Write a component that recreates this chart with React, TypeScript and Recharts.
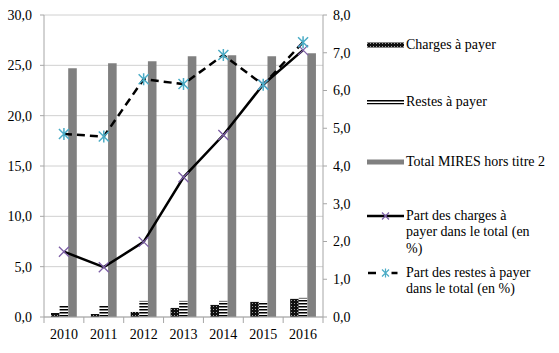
import React from "react";
import {
  ComposedChart,
  Bar,
  Line,
  XAxis,
  YAxis,
  CartesianGrid,
} from "recharts";

const years = ["2010", "2011", "2012", "2013", "2014", "2015", "2016"];
const chargesAPayer = [0.4, 0.3, 0.5, 0.9, 1.2, 1.5, 1.8];
const restesAPayer = [1.1, 1.1, 1.6, 1.6, 1.6, 1.5, 1.9];
const totalMires = [24.7, 25.2, 25.4, 25.9, 26.0, 25.9, 26.2];
const partCharges = [1.73, 1.32, 1.99, 3.7, 4.82, 6.16, 7.07];
const partRestes = [4.85, 4.78, 6.3, 6.17, 6.94, 6.15, 7.28];

const leftTicks = [0, 5, 10, 15, 20, 25, 30];
const rightTicks = [0, 1, 2, 3, 4, 5, 6, 7, 8];

const seriesNames = [
  "Charges à payer",
  "Restes à payer",
  "Total MIRES hors titre 2",
  "Part des charges à payer dans le total (en %)",
  "Part des restes à payer dans le total (en %)",
];
// how the legend wraps the two long names
const legendLines = [
  ["Charges à payer"],
  ["Restes à payer"],
  ["Total MIRES hors titre 2"],
  ["Part des charges à", "payer dans le total (en", "%)"],
  ["Part des restes à payer", "dans le total (en %)"],
];

const data = years.map((y, i) => ({
  year: y,
  charges: chargesAPayer[i],
  restes: restesAPayer[i],
  total: totalMires[i],
  partCharges: partCharges[i],
  partRestes: partRestes[i],
}));

const W = 559;
const H = 353;
const M = { top: 15, right: 200, bottom: 0, left: 0 };
const LEFT_W = 44;
const RIGHT_W = 36;
const band = (W - M.right - M.left - LEFT_W - RIGHT_W) / years.length;

const FONT = "'Liberation Serif', 'Times New Roman', serif";
const AXIS = "#a6a6a6";
const PURPLE = "#7d5fa6";
const CYAN = "#4bacc6";

const fmt = (v: number) => v.toFixed(1).replace(".", ",");

const XTick = (props: any) => {
  const { x, y, payload, index } = props;
  const half = band / 2;
  return (
    <g>
      <line x1={x - half} x2={x - half} y1={y} y2={y + 6} stroke={AXIS} />
      {index === years.length - 1 && (
        <line x1={x + half} x2={x + half} y1={y} y2={y + 6} stroke={AXIS} />
      )}
      <text
        x={x}
        y={y + 12}
        dy="0.71em"
        textAnchor="middle"
        fontFamily={FONT}
        fontSize={14}
        fill="#000"
      >
        {payload.value}
      </text>
    </g>
  );
};

const CrossDot = (props: any) => {
  const { cx, cy } = props;
  if (cx == null || cy == null) return null;
  const s = 5;
  return (
    <path
      d={`M${cx - s},${cy - s}L${cx + s},${cy + s}M${cx - s},${cy + s}L${cx + s},${cy - s}`}
      stroke={PURPLE}
      strokeWidth={1.3}
      fill="none"
    />
  );
};

const StarDot = (props: any) => {
  const { cx, cy } = props;
  if (cx == null || cy == null) return null;
  const s = 5;
  return (
    <path
      d={`M${cx - s},${cy - s}L${cx + s},${cy + s}M${cx - s},${cy + s}L${cx + s},${cy - s}M${cx},${cy - s - 1}L${cx},${cy + s + 1}`}
      stroke={CYAN}
      strokeWidth={1.5}
      fill="none"
    />
  );
};

const Patterns = () => (
  <defs>
    <pattern id="dots" patternUnits="userSpaceOnUse" width={3} height={3}>
      <rect width={3} height={3} fill="#111" />
      <rect x={0} y={0} width={1} height={1} fill="#fff" opacity={0.6} />
    </pattern>
    <pattern id="stripes" patternUnits="userSpaceOnUse" width={4} height={3}>
      <rect width={4} height={3} fill="#fff" />
      <rect width={4} height={1.5} fill="#000" />
    </pattern>
  </defs>
);

const LegendIcon = ({ i }: { i: number }) => {
  const w = 37;
  if (i < 3) {
    const fill = i === 0 ? "url(#dots)" : i === 1 ? "url(#stripes)" : "#808080";
    return (
      <svg width={w} height={10} style={{ display: "block" }}>
        <rect x={0} y={2.5} width={w} height={5} fill={fill} />
      </svg>
    );
  }
  const m = w / 2;
  return (
    <svg width={w} height={12} style={{ display: "block" }}>
      {i === 3 ? (
        <line x1={0} x2={w} y1={6} y2={6} stroke="#000" strokeWidth={2.5} />
      ) : (
        <>
          <line x1={1} x2={9} y1={6} y2={6} stroke="#000" strokeWidth={2.5} />
          <line x1={m + 6} x2={m + 12} y1={6} y2={6} stroke="#000" strokeWidth={2.5} />
        </>
      )}
      <path
        d={`M${m - 3.5},2.5L${m + 3.5},9.5M${m - 3.5},9.5L${m + 3.5},2.5${i === 4 ? `M${m},1.5L${m},10.5` : ""}`}
        stroke={i === 3 ? PURPLE : CYAN}
        strokeWidth={1.2}
        fill="none"
      />
    </svg>
  );
};

const legendTops = [45, 102, 162, 216, 273];

const ChartLegend = () => (
  <div style={{ position: "absolute", left: 367, top: 0, fontFamily: FONT, fontSize: 14, color: "#000" }}>
    {seriesNames.map((name, i) => (
      <div
        key={name}
        style={{ position: "absolute", top: legendTops[i] - 8.5, left: 0, display: "flex", alignItems: "flex-start" }}
      >
        <div style={{ width: 39, height: 17, display: "flex", alignItems: "center" }}>
          <LegendIcon i={i} />
        </div>
        <div style={{ whiteSpace: "nowrap", lineHeight: "16.5px" }}>
          {legendLines[i].map((l, k) => (
            <div key={k}>{l}</div>
          ))}
        </div>
      </div>
    ))}
  </div>
);

export default function App() {
  const tickStyle = { fontFamily: FONT, fontSize: 14, fill: "#000" };
  return (
    <div style={{ position: "absolute", left: 0, top: 0, width: W, height: H, background: "#fff" }}>
      <ComposedChart
        width={W}
        height={H}
        data={data}
        margin={M}
        barGap={0}
        barSize={8.6}
      >
        <Patterns />
        <CartesianGrid yAxisId="left" vertical={false} stroke="#d0d0d0" />
        <XAxis
          dataKey="year"
          height={36}
          tickLine={false}
          tickSize={0}
          tickMargin={0}
          axisLine={{ stroke: AXIS }}
          tick={<XTick />}
          interval={0}
        />
        <YAxis
          yAxisId="left"
          width={LEFT_W}
          domain={[0, 30]}
          ticks={leftTicks}
          tickFormatter={fmt}
          tickSize={4}
          tickMargin={8}
          axisLine={{ stroke: AXIS }}
          tickLine={{ stroke: AXIS }}
          tick={tickStyle}
          interval={0}
        />
        <YAxis
          yAxisId="right"
          orientation="right"
          width={RIGHT_W}
          domain={[0, 8]}
          ticks={rightTicks}
          tickFormatter={fmt}
          tickSize={4}
          tickMargin={6}
          axisLine={{ stroke: AXIS }}
          tickLine={{ stroke: AXIS }}
          tick={tickStyle}
          interval={0}
        />
        <Bar yAxisId="left" dataKey="charges" name={seriesNames[0]} fill="url(#dots)" isAnimationActive={false} />
        <Bar yAxisId="left" dataKey="restes" name={seriesNames[1]} fill="url(#stripes)" isAnimationActive={false} />
        <Bar yAxisId="left" dataKey="total" name={seriesNames[2]} fill="#808080" isAnimationActive={false} />
        <Line
          yAxisId="right"
          type="linear"
          dataKey="partCharges"
          name={seriesNames[3]}
          stroke="#000"
          strokeWidth={2.5}
          dot={<CrossDot />}
          activeDot={false}
          isAnimationActive={false}
        />
        <Line
          yAxisId="right"
          type="linear"
          dataKey="partRestes"
          name={seriesNames[4]}
          stroke="#000"
          strokeWidth={2.5}
          strokeDasharray="8 5"
          dot={<StarDot />}
          activeDot={false}
          isAnimationActive={false}
        />
      </ComposedChart>
      <ChartLegend />
    </div>
  );
}
